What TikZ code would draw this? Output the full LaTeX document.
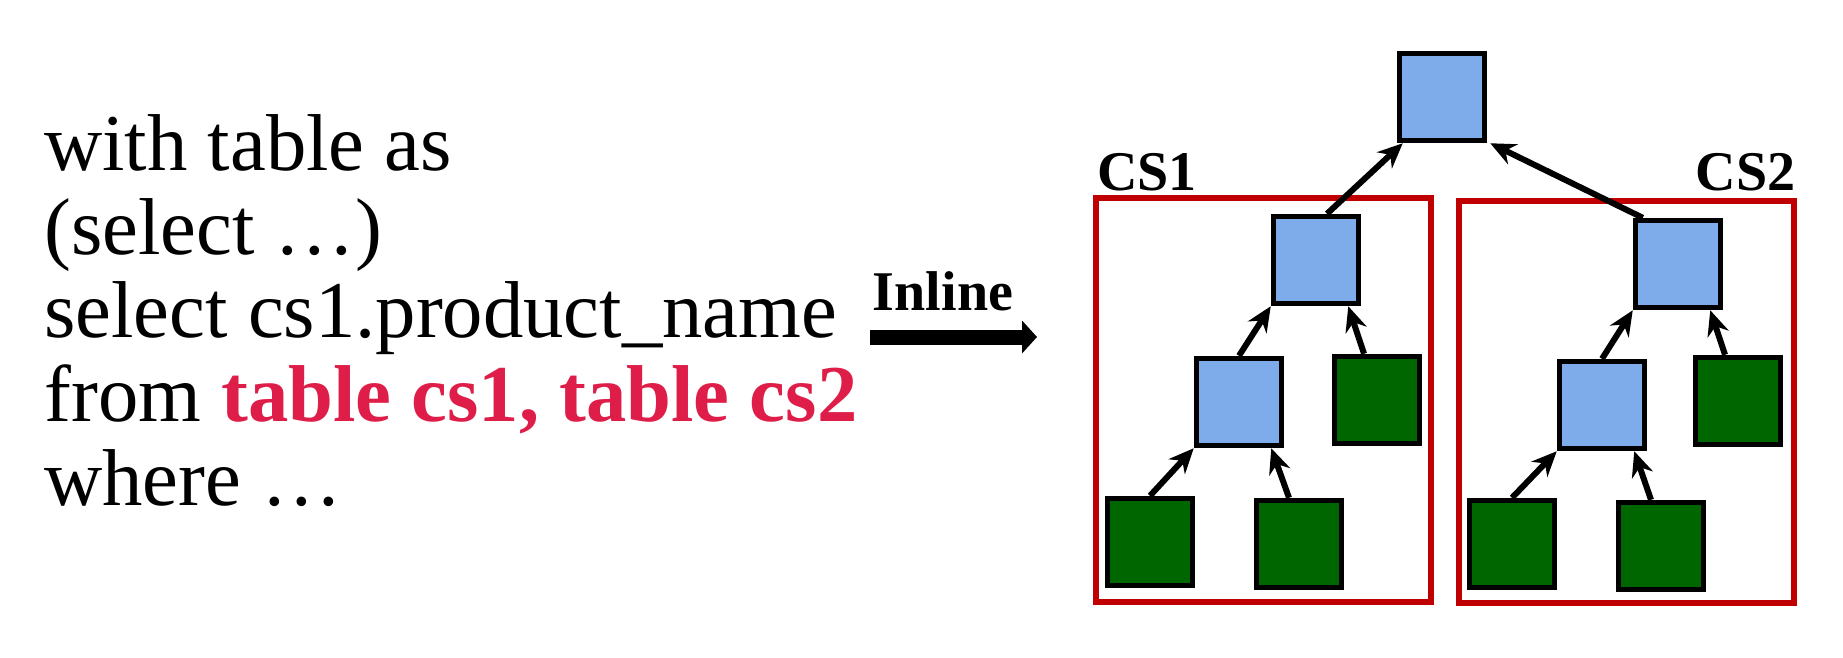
\documentclass[tikz,border=0pt]{standalone}
\usepackage{fontspec}
\setmainfont{Liberation Serif}
\usepackage{tikz}
\usetikzlibrary{positioning, arrows.meta}

\definecolor{planblue}{RGB}{126,172,234}
\definecolor{scangreen}{RGB}{0,102,0}
\definecolor{framered}{RGB}{192,0,0}
\definecolor{sqlred}{RGB}{222,30,72}

\begin{document}
\begin{tikzpicture}[
    >=stealth,
    x=0.02cm, y=-0.02cm,
    sql/.style={anchor=base west, inner sep=0pt, font=\fontsize{45.9}{50}\selectfont},
    tag/.style={inner sep=0pt, font=\fontsize{31.9}{36}\selectfont\bfseries},
    op/.style={draw=black, line width=0.11cm, fill=planblue, minimum width=1.7cm, minimum height=1.74cm, inner sep=0pt},
    scan/.style={op, fill=scangreen},
    flow/.style={-{Stealth[length=0.5cm, width=0.44cm]}, line width=0.12cm},
    cs/.style={draw=framered, line width=0.12cm}
]
\useasboundingbox (0,0) rectangle (1843,657);

% The query
\node[sql] (l1) at (44,170) {with table as};
\node[sql] (l2) at (44,254) {(select …)};
\node[sql] (l3) at (44,337) {select cs1.product\_name};
\node[sql] (l4) at (44,421) {from \textcolor{sqlred}{\bfseries table cs1, table cs2}};
\node[sql] (l5) at (44,505) {where …};

% Inline arrow
\node[tag, anchor=base] (inl) at (943,310) {Inline};
\coordinate (ia) at (870,337);
\coordinate (ib) at (1037,337);
\draw[line width=0.3cm, -{Triangle[length=0.3cm, width=0.66cm, line width=0pt]}] (ia) -- (ib);

% Common subexpression frames
\draw[cs] (1096,198) rectangle (1431,602);
\draw[cs] (1459,201) rectangle (1794,603);
\node[tag, anchor=base west] (cs1) at (1097,190) {CS1};
\node[tag, anchor=base east] (cs2) at (1796,190) {CS2};

% Plan operators
\node[op] (root) at (1442,97) {};
\node[op] (m1) at (1316,260) {};
\node[op] (b1) at (1239,402) {};
\node[scan] (g1r) at (1377,400) {};
\node[scan] (g1a) at (1150,542) {};
\node[scan] (g1b) at (1299,544) {};
\node[op] (m2) at (1678,264) {};
\node[op] (b2) at (1602,405) {};
\node[scan] (g2r) at (1738,401) {};
\node[scan] (g2a) at (1512,544) {};
\node[scan] (g2b) at (1661,546) {};

% Edges in CS1
\draw[flow] ([xshift=0.22cm]m1.north) -- ([xshift=0.12cm]root.south west);
\draw[flow] (b1.north) -- (m1.south west);
\draw[flow] ([xshift=-0.26cm]g1r.north) -- ([xshift=-0.26cm]m1.south east);
\draw[flow] (g1a.north) -- (b1.south west);
\draw[flow] ([xshift=-0.2cm]g1b.north) -- ([xshift=-0.26cm]b1.south east);

% Edges in CS2
\draw[flow] ([xshift=0.2cm]m2.north west) -- ([xshift=0.06cm]root.south east);
\draw[flow] (b2.north) -- (m2.south west);
\draw[flow] ([xshift=-0.26cm]g2r.north) -- ([xshift=-0.26cm]m2.south east);
\draw[flow] (g2a.north) -- (b2.south west);
\draw[flow] ([xshift=-0.2cm]g2b.north) -- ([xshift=-0.26cm]b2.south east);

\end{tikzpicture}
\end{document}
